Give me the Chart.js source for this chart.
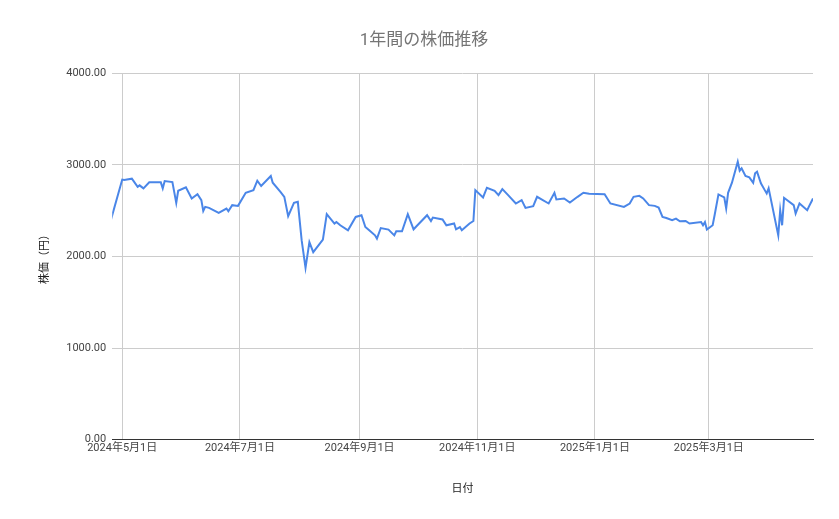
<!DOCTYPE html>
<html>
<head>
<meta charset="utf-8">
<script src="https://cdn.jsdelivr.net/npm/chart.js@4.4.1/dist/chart.umd.min.js"></script>
<style>
  html, body { margin: 0; padding: 0; background: #fff; }
  #wrap { width: 839px; height: 519px; }
</style>
</head>
<body>
<div id="wrap"><canvas id="stock-chart"></canvas></div>
<script>
// days counted from 2024-05-01
const days = [-6,0,1,5,8,9,11,14,20,21,22,26,28,29,33,36,39,41,42,43,45,50,54,55,57,60,64,68,70,72,77,78,82,84,86,89,91,93,95,97,99,104,106,110,111,113,117,121,124,126,128,131,132,134,138,141,142,145,148,151,153,158,160,161,166,168,172,173,175,176,180,182,183,187,189,193,195,197,200,204,207,209,213,215,221,224,225,229,232,236,239,242,250,253,260,263,265,268,270,273,276,278,280,282,285,287,289,292,294,300,301,302,303,306,307,309,312,313,314,316,319,320,321,323,325,327,328,329,331,333,334,335,340,341,342,343,348,349,351,355,356,358];
const prices = [2390,2840,2835,2850,2762,2777,2744,2810,2810,2744,2824,2813,2586,2718,2755,2634,2681,2616,2498,2542,2531,2476,2524,2495,2561,2553,2696,2725,2828,2770,2880,2806,2707,2652,2440,2586,2597,2176,1876,2157,2047,2184,2462,2360,2377,2341,2286,2432,2451,2322,2286,2231,2195,2311,2294,2231,2275,2275,2462,2297,2341,2451,2388,2425,2404,2341,2360,2297,2322,2286,2360,2388,2725,2645,2751,2718,2671,2736,2671,2579,2616,2531,2550,2652,2579,2696,2623,2634,2590,2652,2696,2685,2681,2579,2542,2579,2652,2663,2634,2561,2553,2535,2432,2421,2396,2414,2385,2388,2360,2377,2341,2377,2294,2341,2451,2678,2645,2524,2696,2806,3036,2937,2963,2879,2865,2806,2909,2927,2799,2725,2689,2744,2231,2506,2341,2641,2561,2469,2579,2506,2550,2634];
const tickDays = [0, 61, 123, 184, 245, 304];
const tickLabels = ['2024年5月1日', '2024年7月1日', '2024年9月1日', '2024年11月1日', '2025年1月1日', '2025年3月1日'];

const points = days.map((d, i) => ({ x: d, y: prices[i] }));
const font = "Roboto, 'Noto Sans CJK JP', sans-serif";

new Chart(document.getElementById('stock-chart'), {
  type: 'line',
  data: {
    datasets: [{
      data: points,
      borderColor: '#4a86e8',
      borderWidth: 2,
      pointRadius: 0,
      tension: 0,
      fill: false
    }]
  },
  options: {
    responsive: true,
    maintainAspectRatio: false,
    animation: false,
    layout: { padding: { top: 31, right: 26, left: 35, bottom: 19 } },
    plugins: {
      legend: { display: false },
      tooltip: { enabled: false },
      title: {
        display: true,
        text: '1年間の株価推移',
        color: '#757575',
        font: { family: font, size: 17, weight: 'normal' },
        padding: { bottom: 22 }
      }
    },
    scales: {
      x: {
        type: 'linear',
        min: -5.2,
        max: 358,
        afterBuildTicks: axis => { axis.ticks = tickDays.map(v => ({ value: v })); },
        ticks: {
          color: '#444',
          font: { family: font, size: 11 },
          maxRotation: 0,
          autoSkip: false,
          padding: 2,
          callback: v => tickLabels[tickDays.indexOf(v)]
        },
        grid: { color: '#cccccc', drawTicks: false },
        border: { color: '#333' },
        title: { display: true, text: '日付', color: '#222', font: { family: font, size: 11 }, padding: { top: 26 } }
      },
      y: {
        min: 0,
        max: 4000,
        ticks: {
          stepSize: 1000,
          color: '#444',
          font: { family: font, size: 11 },
          padding: 6,
          callback: v => v.toFixed(2)
        },
        grid: { color: '#cccccc', drawTicks: false },
        border: { display: false },
        title: { display: true, text: '株価（円）', color: '#222', font: { family: font, size: 11 }, padding: { bottom: 8 } }
      }
    }
  }
});
</script>
</body>
</html>
